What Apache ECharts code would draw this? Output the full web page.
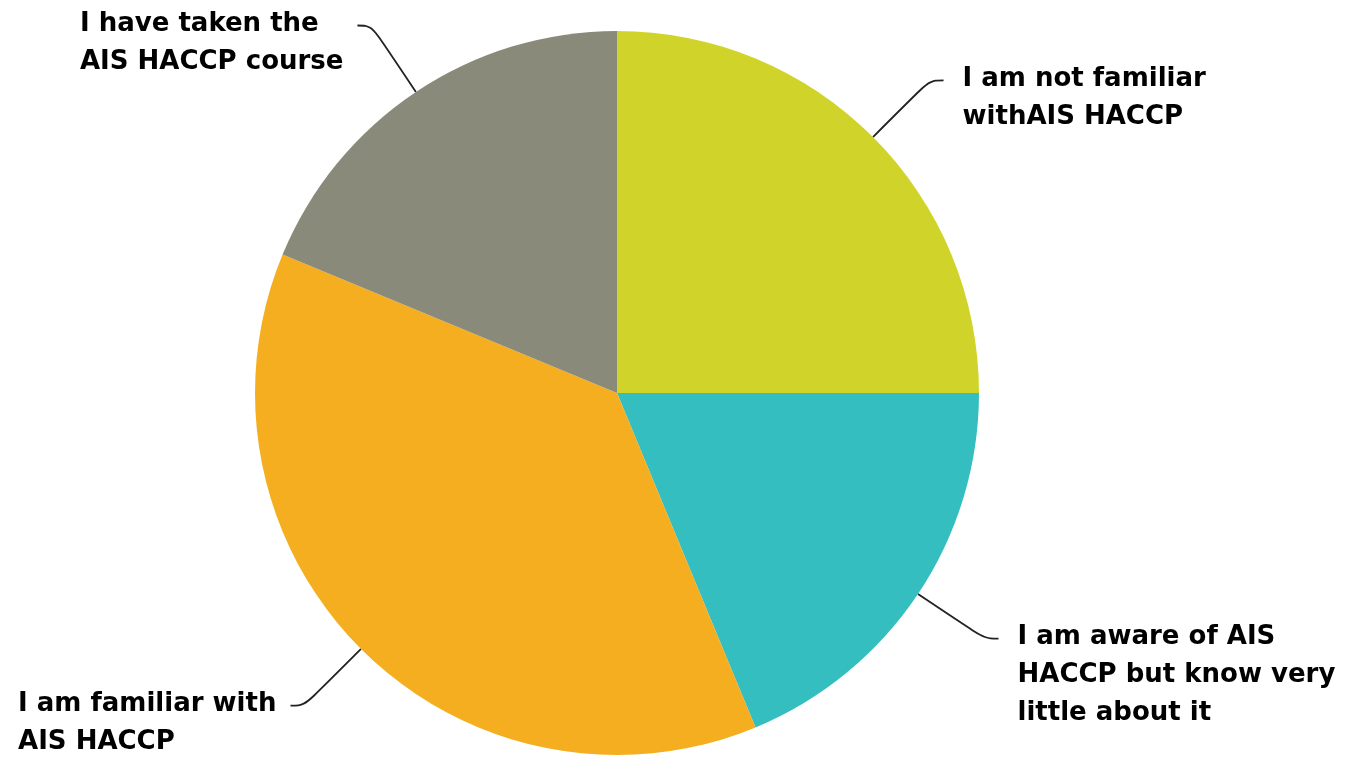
<!DOCTYPE html>
<html>
<head>
<meta charset="utf-8">
<script src="https://cdn.jsdelivr.net/npm/echarts@6/dist/echarts.min.js"></script>
<style>
html,body{margin:0;padding:0;background:#fff;}
#chart{width:1355px;height:758px;}
</style>
</head>
<body>
<div id="chart"></div>
<script>
const categories = [
  'I am not familiar\nwithAIS HACCP',
  'I am aware of AIS\nHACCP but know very\nlittle about it',
  'I am familiar with\nAIS HACCP',
  'I have taken the\nAIS HACCP course'
];
const values = [4, 3, 6, 3];
const colors = ['#D0D42A', '#35BEC0', '#F5AE1F', '#8A8A7A'];

const LINE_H = 38;
const GAP_R = 19;
const GAP_L = 14;
const data = categories.map((name, i) => ({
  name: name,
  value: values[i],
  itemStyle: { color: colors[i] }
}));

const chart = echarts.init(document.getElementById('chart'), null, { renderer: 'canvas' });
chart.setOption({
  animation: false,
  backgroundColor: '#ffffff',
  series: [{
    type: 'pie',
    center: [617, 393],
    radius: [0, 362],
    startAngle: 90,
    clockwise: true,
    avoidLabelOverlap: false,
    data: data,
    itemStyle: { borderWidth: 0 },
    label: {
      show: true,
      position: 'outside',
      formatter: '{b}',
      color: '#000',
      fontFamily: 'DejaVu Sans',
      fontWeight: 'bold',
      fontSize: 26,
      lineHeight: LINE_H,
      overflow: 'none',
      distanceToLabelLine: GAP_R
    },
    labelLine: {
      show: true,
      length: 80,
      length2: 14,
      smooth: 0.4,
      lineStyle: { color: '#222', width: 1.8 }
    },
    labelLayout: function (params) {
      const pts = params.labelLinePoints;
      if (!pts) return {};
      const end = pts[pts.length - 1];
      const prev = pts[pts.length - 2];
      const isLeft = end[0] < prev[0];
      const w = params.labelRect.width;
      return {
        x: isLeft ? end[0] - GAP_L - w : end[0] + GAP_R,
        y: end[1] - LINE_H / 2 - 1,
        align: 'left',
        verticalAlign: 'top',
        labelLinePoints: pts
      };
    },
    emphasis: { disabled: true }
  }]
});
</script>
</body>
</html>
